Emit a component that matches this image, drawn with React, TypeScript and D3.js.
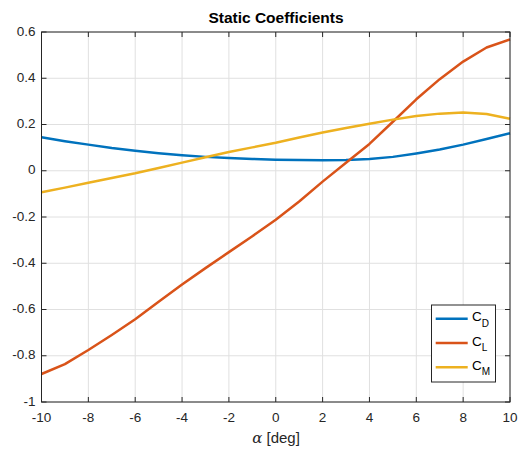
import React from 'react'
import * as d3 from 'd3'

const alpha = [-10, -9, -8, -7, -6, -5, -4, -3, -2, -1, 0, 1, 2, 3, 4, 5, 6, 7, 8, 9, 10]
const cd = [0.145, 0.128, 0.113, 0.098, 0.086, 0.076, 0.067, 0.06, 0.055, 0.051, 0.048, 0.046, 0.045, 0.046, 0.051, 0.06, 0.075, 0.092, 0.113, 0.137, 0.162]
const cl = [-0.879, -0.836, -0.775, -0.71, -0.642, -0.566, -0.492, -0.421, -0.352, -0.283, -0.212, -0.133, -0.047, 0.035, 0.116, 0.212, 0.309, 0.396, 0.472, 0.533, 0.568]
const cm = [-0.093, -0.073, -0.052, -0.031, -0.011, 0.012, 0.035, 0.058, 0.081, 0.101, 0.121, 0.144, 0.165, 0.185, 0.203, 0.221, 0.237, 0.247, 0.252, 0.245, 0.225]
const xTicks = [-10, -8, -6, -4, -2, 0, 2, 4, 6, 8, 10]
const yTicks = [-1, -0.8, -0.6, -0.4, -0.2, 0, 0.2, 0.4, 0.6]

const series = [
  { key: 'D', values: cd, color: '#0072BD' },
  { key: 'L', values: cl, color: '#D95319' },
  { key: 'M', values: cm, color: '#EDB120' },
]

const W = 519
const H = 450
const L = 41.5, R = 510, T = 32, B = 402
const font = 'Arial, "Liberation Sans", Helvetica, sans-serif'

export default function App() {
  const x = d3.scaleLinear().domain([-10, 10]).range([L, R])
  const y = d3.scaleLinear().domain([-1, 0.6]).range([B, T])
  const line = d3.line<number>().x((_, i) => x(alpha[i])).y(d => y(d))

  return (
    <svg width={W} height={H} style={{ position: 'absolute', left: 0, top: 0, background: '#fff' }} fontFamily={font}>
      <rect x={0} y={0} width={W} height={H} fill="#fff" />
      <g stroke="#e0e0e0" strokeWidth={1}>
        {xTicks.map(t => <line key={'gx' + t} x1={x(t)} x2={x(t)} y1={T} y2={B} />)}
        {yTicks.map(t => <line key={'gy' + t} x1={L} x2={R} y1={y(t)} y2={y(t)} />)}
      </g>
      {series.map(s => (
        <path key={s.key} d={line(s.values) || ''} fill="none" stroke={s.color} strokeWidth={2.5} strokeLinejoin="round" />
      ))}
      <rect x={L} y={T} width={R - L} height={B - T} fill="none" stroke="#262626" strokeWidth={1} />
      <g stroke="#262626" strokeWidth={1}>
        {xTicks.map(t => (
          <g key={'tx' + t}>
            <line x1={x(t)} x2={x(t)} y1={B} y2={B - 5} />
            <line x1={x(t)} x2={x(t)} y1={T} y2={T + 5} />
          </g>
        ))}
        {yTicks.map(t => (
          <g key={'ty' + t}>
            <line x1={L} x2={L + 5} y1={y(t)} y2={y(t)} />
            <line x1={R} x2={R - 5} y1={y(t)} y2={y(t)} />
          </g>
        ))}
      </g>
      <g fill="#262626" fontSize={13.5}>
        {xTicks.map(t => (
          <text key={'lx' + t} x={x(t)} y={B + 16} dominantBaseline="middle" textAnchor="middle">{String(t)}</text>
        ))}
        {yTicks.map(t => (
          <text key={'ly' + t} x={L - 6} y={y(t)} dominantBaseline="middle" textAnchor="end">{String(+t.toFixed(1))}</text>
        ))}
      </g>
      <text x={276} y={19} textAnchor="middle" dominantBaseline="middle" fontWeight="bold" fontSize={15.5} fill="#000">Static Coefficients</text>
      <text x={276} y={439} textAnchor="middle" dominantBaseline="middle" fontSize={15} fill="#262626">
        <tspan fontFamily='"DejaVu Serif", "Liberation Serif", serif' fontStyle="italic">α</tspan> [deg]
      </text>
      <g>
        <rect x={431.5} y={305} width={64} height={77} fill="#fff" stroke="#262626" strokeWidth={1} />
        {series.map((s, i) => (
          <g key={'lg' + s.key} transform={`translate(0, ${318.7 + i * 24.3})`}>
            <line x1={435.7} x2={467.7} y1={0} y2={0} stroke={s.color} strokeWidth={2.5} />
            <text x={472} y={-1} dominantBaseline="middle" fontSize={13.5} fill="#000">
              C<tspan fontSize={10} dy={6}>{s.key}</tspan>
            </text>
          </g>
        ))}
      </g>
    </svg>
  )
}
